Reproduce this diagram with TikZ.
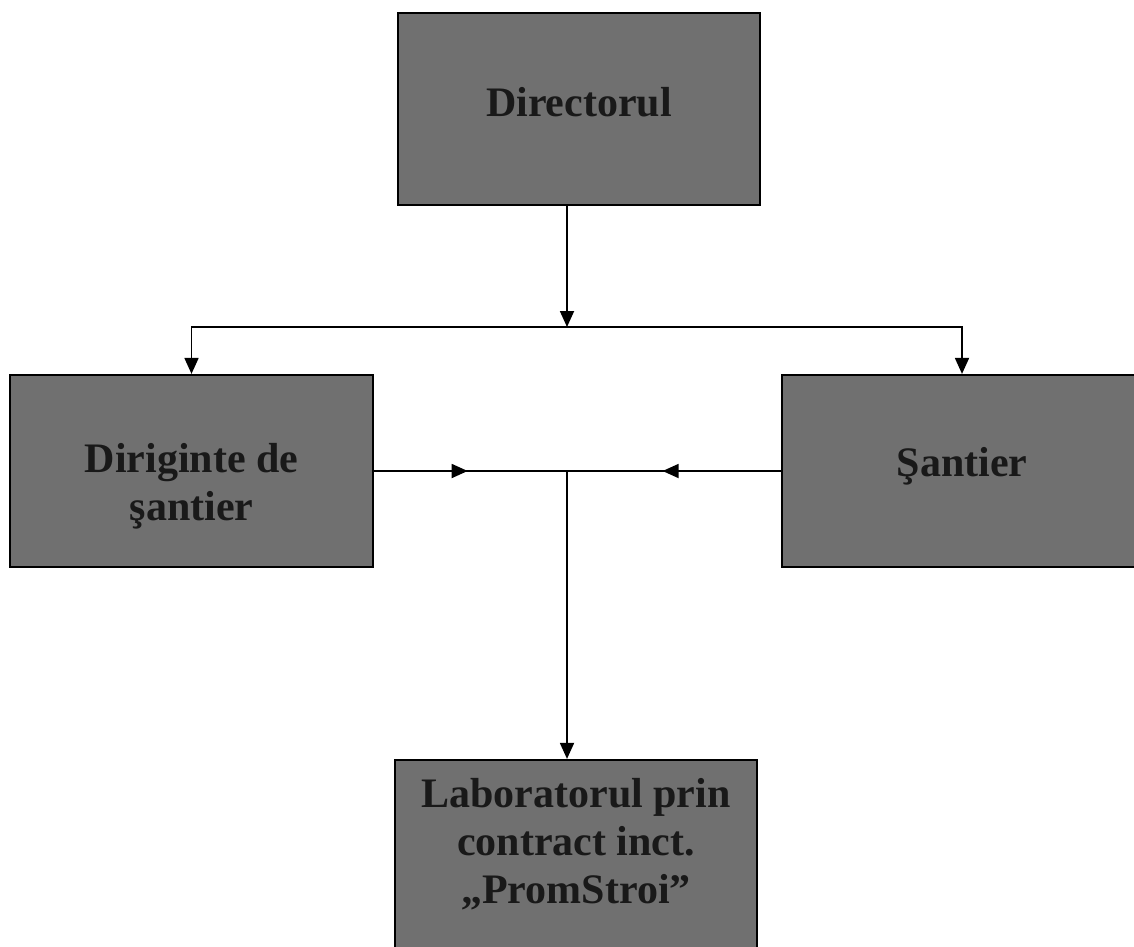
\documentclass[tikz,border=0pt]{standalone}
\usepackage{fontspec}
\setmainfont{Liberation Serif}
\usetikzlibrary{arrows.meta,decorations.markings}
\definecolor{boxgray}{RGB}{112,112,112}

\begin{document}
\begin{tikzpicture}[x=1pt,y=-1pt,line width=1.8pt,>={Triangle[length=16pt,width=14pt]}]

      \clip (0,0) rectangle (1134,946);
      \fill[white] (0,0) rectangle (1134,946);

      \begin{scope}[every node/.style={rectangle,draw,line width=2.2pt,fill=boxgray,text=black!90,
          font=\bfseries\fontsize{42}{48}\selectfont,align=center,inner sep=0pt,minimum height=192}]
        \node[minimum width=362] (1) at (579,109)   {Directorul\\[-34pt]\mbox{}};
        \node[minimum width=363] (2) at (191.5,471) {\mbox{}\\[12pt]Diriginte de\\şantier};
        \node[minimum width=360] (3) at (962,471)   {Şantier\\[-29pt]\mbox{}};
        \node[minimum width=362,minimum height=200] (4) at (576,860)
          {Laboratorul prin\\contract inct.\\„PromStroi”\\[-10pt]\mbox{}};
      \end{scope}

      \coordinate (a) at (567,327);
      \coordinate (b) at (567,471);

      \begin{scope}[every edge/.style={draw,->}]
        \path (1.south -| a) edge (a);
        \path (b) edge (b |- 4.north);
      \end{scope}
      \draw[->] (a) -| (2.north);
      \draw[->] (a) -| (3.north);

      \draw[postaction=decorate,decoration={markings,mark=at position 0.485 with {\arrow{>}}}] (2.east) -- (b);
      \draw[postaction=decorate,decoration={markings,mark=at position 0.553 with {\arrow{>}}}] (3.west) -- (b);

    \end{tikzpicture}
\end{document}
